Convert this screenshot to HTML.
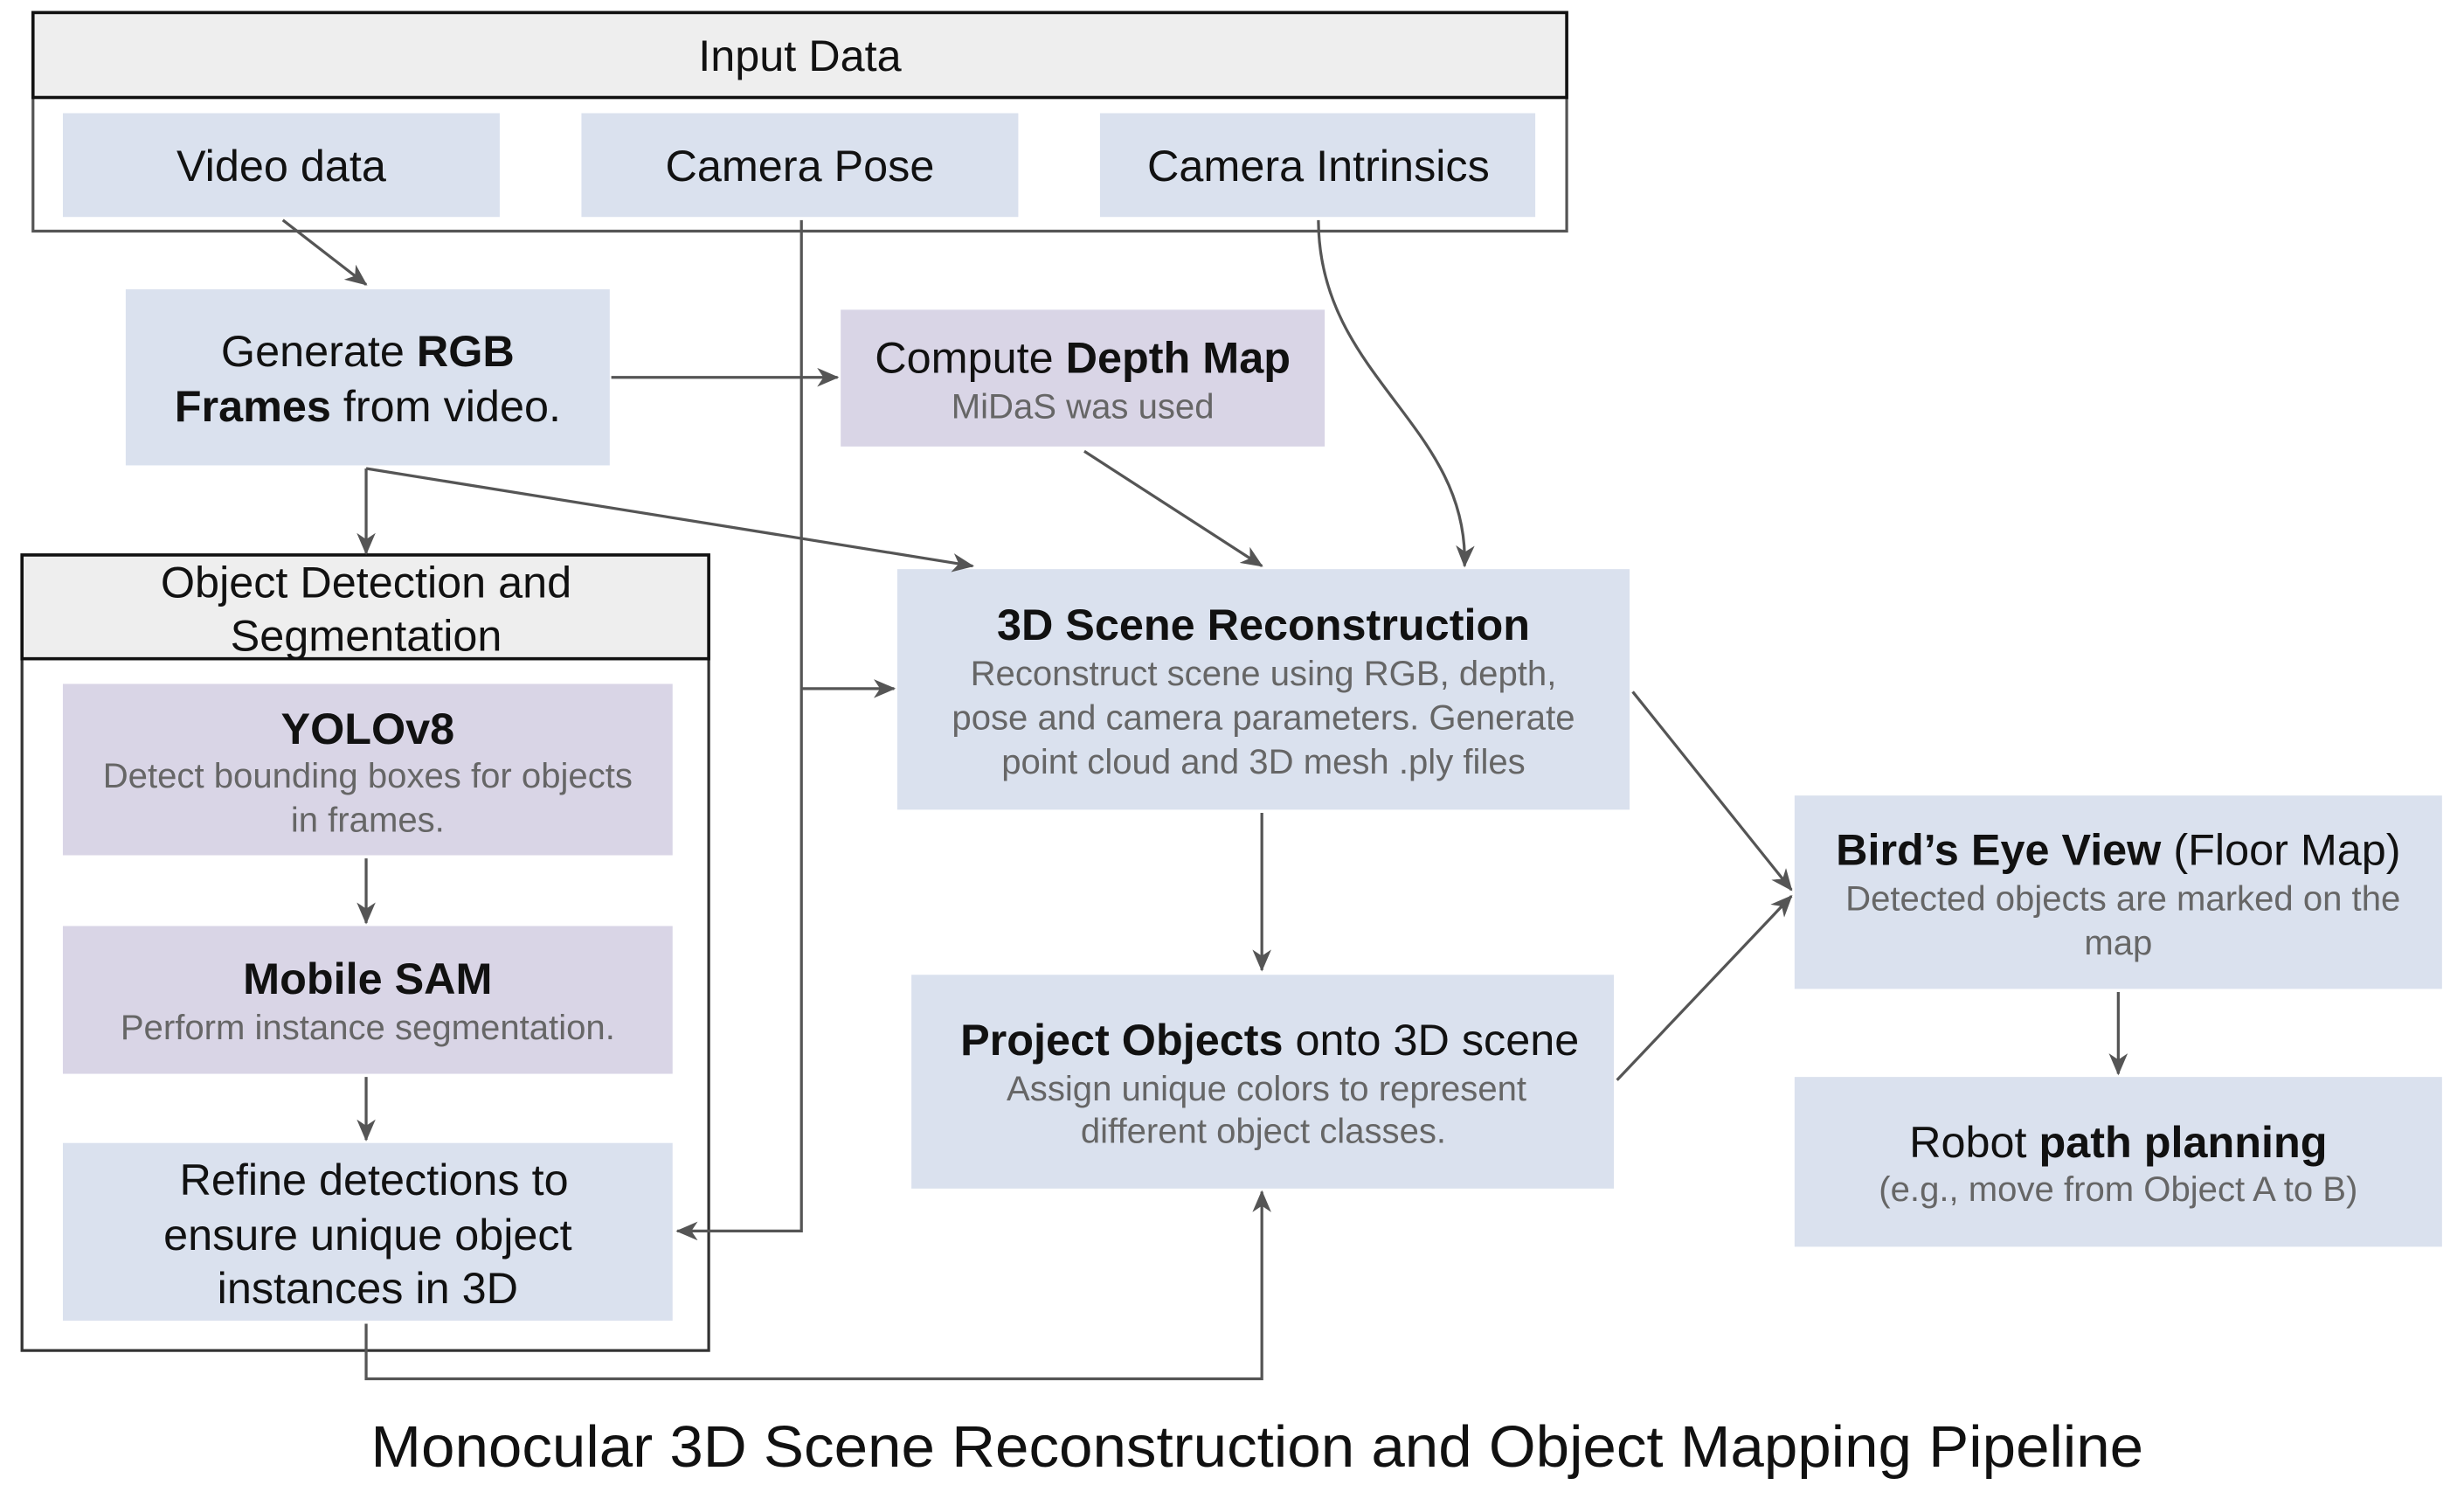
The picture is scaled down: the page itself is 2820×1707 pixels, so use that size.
<!DOCTYPE html>
<html><head><meta charset="utf-8"><style>
html,body{margin:0;padding:0;background:#fff;}
svg{display:block}
text{font-family:"Liberation Sans",Arial,sans-serif;}
.m{font-size:28px;fill:#111;text-anchor:middle}
.s{font-size:22.3px;fill:#666;text-anchor:middle}
.b{font-weight:bold}
.ln{stroke:#555;stroke-width:1.8;fill:none}
</style></head><body>
<svg width="2820" height="1707" viewBox="0 0 1568 949" preserveAspectRatio="none" xmlns="http://www.w3.org/2000/svg">
<defs>
<marker id="a" viewBox="0 0 14 12" refX="13" refY="6" markerWidth="14" markerHeight="12" markerUnits="userSpaceOnUse" orient="auto">
<path d="M0,0 L14,6 L0,12 L4,6 Z" fill="#555"/>
</marker>
</defs>
<rect x="0" y="0" width="1568" height="949" fill="#fff"/>
<rect x="21" y="8" width="976" height="139" fill="#fff" stroke="#555" stroke-width="1.8"/>
<rect x="21" y="8" width="976" height="54" fill="#eeeeee" stroke="#111" stroke-width="2"/>
<text x="509" y="45" class="m">Input Data</text>
<rect x="40" y="72" width="278" height="66" fill="#dae1ee"/>
<text x="179" y="115" class="m">Video data</text>
<rect x="370" y="72" width="278" height="66" fill="#dae1ee"/>
<text x="509" y="115" class="m">Camera Pose</text>
<rect x="700" y="72" width="277" height="66" fill="#dae1ee"/>
<text x="839" y="115" class="m">Camera Intrinsics</text>

<rect x="80" y="184" width="308" height="112" fill="#dae1ee"/>
<text x="234" y="233" class="m">Generate <tspan class="b">RGB</tspan></text>
<text x="234" y="268" class="m"><tspan class="b">Frames</tspan> from video.</text>

<rect x="535" y="197" width="308" height="87" fill="#d9d5e6"/>
<text x="689" y="237" class="m">Compute <tspan class="b">Depth Map</tspan></text>
<text x="689" y="266" class="s">MiDaS was used</text>

<rect x="14" y="353" width="437" height="506" fill="#fff" stroke="#333" stroke-width="1.8"/>
<rect x="14" y="353" width="437" height="66" fill="#eeeeee" stroke="#111" stroke-width="2"/>
<text x="233" y="380" class="m">Object Detection and</text>
<text x="233" y="414" class="m">Segmentation</text>
<rect x="40" y="435" width="388" height="109" fill="#d9d5e6"/>
<text x="234" y="473" class="m b">YOLOv8</text>
<text x="234" y="501" class="s">Detect bounding boxes for objects</text>
<text x="234" y="529" class="s">in frames.</text>
<rect x="40" y="589" width="388" height="94" fill="#d9d5e6"/>
<text x="234" y="632" class="m b">Mobile SAM</text>
<text x="234" y="661" class="s">Perform instance segmentation.</text>
<rect x="40" y="727" width="388" height="113" fill="#dae1ee"/>
<text x="238" y="760" class="m">Refine detections to</text>
<text x="234" y="795" class="m">ensure unique object</text>
<text x="234" y="829" class="m">instances in 3D</text>

<rect x="571" y="362" width="466" height="153" fill="#dae1ee"/>
<text x="804" y="407" class="m b">3D Scene Reconstruction</text>
<text x="804" y="436" class="s">Reconstruct scene using RGB, depth,</text>
<text x="804" y="464" class="s">pose and camera parameters. Generate</text>
<text x="804" y="492" class="s">point cloud and 3D mesh .ply files</text>

<rect x="580" y="620" width="447" height="136" fill="#dae1ee"/>
<text x="808" y="671" class="m"><tspan class="b">Project Objects</tspan> onto 3D scene</text>
<text x="806" y="700" class="s">Assign unique colors to represent</text>
<text x="804" y="727" class="s">different object classes.</text>

<rect x="1142" y="506" width="412" height="123" fill="#dae1ee"/>
<text x="1348" y="550" class="m"><tspan class="b">Bird’s Eye View</tspan> (Floor Map)</text>
<text x="1351" y="579" class="s">Detected objects are marked on the</text>
<text x="1348" y="607" class="s">map</text>

<rect x="1142" y="685" width="412" height="108" fill="#dae1ee"/>
<text x="1348" y="736" class="m">Robot <tspan class="b">path planning</tspan></text>
<text x="1348" y="764" class="s">(e.g., move from Object A to B)</text>

<line class="ln" x1="180" y1="140" x2="233" y2="181" marker-end="url(#a)"/>
<path class="ln" d="M510,140 L510,783 L431,783" marker-end="url(#a)"/>
<line class="ln" x1="510" y1="438" x2="569" y2="438" marker-end="url(#a)"/>
<line class="ln" x1="389" y1="240" x2="533" y2="240" marker-end="url(#a)"/>
<path class="ln" d="M233,298 L233,352" marker-end="url(#a)"/>
<line class="ln" x1="233" y1="298" x2="619" y2="360" marker-end="url(#a)"/>
<line class="ln" x1="690" y1="287" x2="803" y2="360" marker-end="url(#a)"/>
<path class="ln" d="M839,140 C839,240 935,270 932,360" marker-end="url(#a)"/>
<line class="ln" x1="1039" y1="440" x2="1140" y2="566" marker-end="url(#a)"/>
<line class="ln" x1="1029" y1="687" x2="1140" y2="570" marker-end="url(#a)"/>
<line class="ln" x1="803" y1="517" x2="803" y2="617" marker-end="url(#a)"/>
<line class="ln" x1="1348" y1="631" x2="1348" y2="683" marker-end="url(#a)"/>
<line class="ln" x1="233" y1="546" x2="233" y2="587" marker-end="url(#a)"/>
<line class="ln" x1="233" y1="685" x2="233" y2="725" marker-end="url(#a)"/>
<path class="ln" d="M233,842 L233,877 L803,877 L803,758" marker-end="url(#a)"/>

<text x="800" y="933" style="font-size:37px;fill:#111;text-anchor:middle" textLength="1128" lengthAdjust="spacingAndGlyphs">Monocular 3D Scene Reconstruction and Object Mapping Pipeline</text>
</svg>
</body></html>
